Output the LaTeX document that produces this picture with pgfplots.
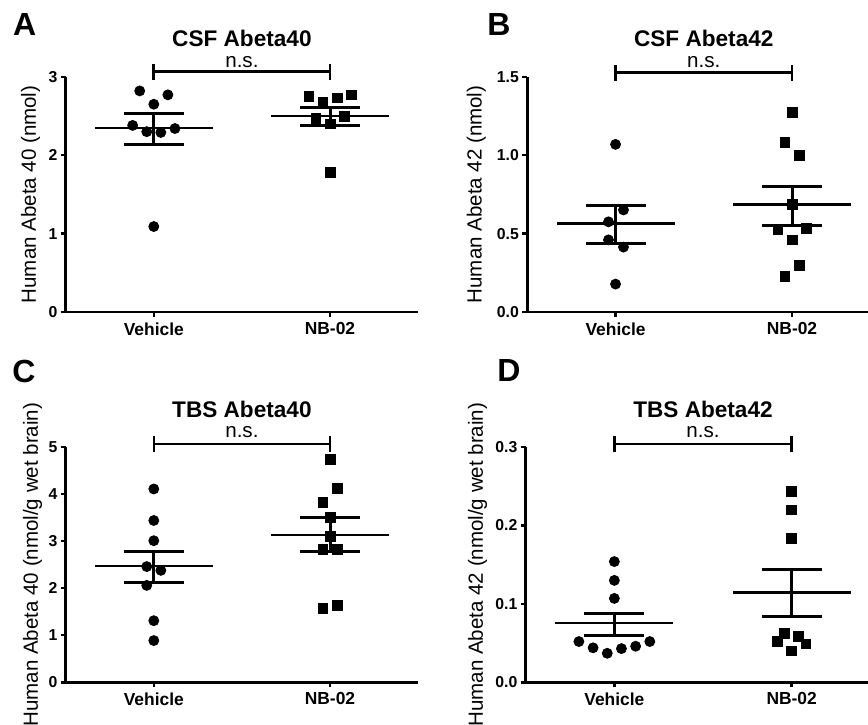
\documentclass[border=0pt]{standalone}
\usepackage{pgfplots}
\pgfplotsset{compat=1.18}
\usepackage{fontspec}
\setmainfont{Liberation Sans}

\pgfplotsset{
  dotplot/.style={
    scale only axis,
    anchor=south west,
    clip=false,
    axis x line=bottom, axis y line=left,
    axis line style={line width=1.3pt,-},
    tick style={line width=1.2pt,black},
    major tick length=2.5pt,
    tick align=outside,
    xtick={1,2}, xticklabels={Vehicle,NB-02},
    xmin=0.5, ymin=0,
    height=117.6pt,
    /pgf/number format/assume math mode=true,
    yticklabel style={font=\bfseries\fontsize{7.9}{9}\selectfont, inner sep=1.5pt},
    xticklabel style={font=\bfseries\fontsize{8.7}{10}\selectfont, inner sep=2.5pt},
    every axis y label/.style={rotate=90, anchor=center, font=\fontsize{10.25}{12}\selectfont},
  },
  vmark/.style={black, only marks, mark=*, mark size=2.5pt},
  nmark/.style={black, only marks, mark=square*, mark size=2.45pt},
  meansem/.style={black, only marks, mark=-, mark size=29.5pt,
    mark options={line width=1.1pt},
    error bars/.cd, y dir=both, y explicit, error mark=|,
    error mark options={line width=1.5pt, mark size=15pt},
    error bar style={line width=1.5pt}},
}
\tikzset{
  titletext/.style={anchor=base, font=\bfseries\fontsize{11.3}{13}\selectfont},
  nstext/.style={anchor=base, font=\fontsize{10.3}{12}\selectfont},
  panellabel/.style={anchor=base west, inner sep=0pt, font=\bfseries\fontsize{16}{18}\selectfont},
  bracket/.style={line width=1.3pt},
}

\begin{document}
\begin{tikzpicture}
\path[use as bounding box] (0,0) rectangle (434pt,362pt);

% A
\begin{axis}[dotplot, at={(32.85pt,206pt)}, width=176.2pt, xmax=2.5,
  ymax=3, ytick={0,1,2,3},
  ylabel={Human Abeta 40 (nmol)},
  ylabel style={at={(axis description cs:-0.0994,0.5)}}]
\addplot[vmark] coordinates {(0.92,2.82) (1.08,2.77) (1.00,2.65) (0.88,2.38) (0.96,2.30) (1.04,2.29) (1.12,2.34) (1.00,1.09)};
\addplot[nmark] coordinates {(1.88,2.745) (1.96,2.67) (2.04,2.73) (2.12,2.77) (1.92,2.47) (2.00,2.40) (2.08,2.49) (2.00,1.78)};
\addplot[meansem] coordinates {(1,2.35) += (0,0.18) -= (0,0.21) (2,2.50) += (0,0.11) -= (0,0.12)};
\draw[bracket] ([yshift=2.5pt]axis cs:1,3) -- ([yshift=2.5pt]axis cs:2,3);
\draw[bracket] ([yshift=-1.5pt]axis cs:1,3) -- ([yshift=6.5pt]axis cs:1,3);
\draw[bracket] ([yshift=-1.5pt]axis cs:2,3) -- ([yshift=6.5pt]axis cs:2,3);
\node[nstext, yshift=4.85pt] at (axis cs:1.5,3) {n.s.};
\node[titletext, yshift=15pt] at (axis cs:1.5,3) {CSF Abeta40};
\end{axis}

% B
\begin{axis}[dotplot, at={(263.65pt,206pt)}, width=170.3pt, xmax=2.43,
  ymax=1.5, ytick={0,0.5,1,1.5},
  yticklabel style={/pgf/number format/.cd, fixed, fixed zerofill, precision=1},
  ylabel={Human Abeta 42 (nmol)},
  ylabel style={at={(axis description cs:-0.15,0.5)}}]
\addplot[vmark] coordinates {(1.00,1.069) (1.045,0.651) (0.96,0.575) (0.96,0.460) (1.045,0.414) (1.00,0.178)};
\addplot[nmark] coordinates {(2.00,1.271) (1.96,1.080) (2.04,1.001) (2.00,0.687) (1.92,0.524) (2.08,0.535) (2.00,0.460) (2.04,0.297) (1.96,0.227)};
\addplot[meansem] coordinates {(1,0.564) += (0,0.117) -= (0,0.129) (2,0.685) += (0,0.115) -= (0,0.133)};
\draw[bracket] ([yshift=2pt]axis cs:1,1.5) -- ([yshift=2pt]axis cs:2,1.5);
\draw[bracket] ([yshift=-2pt]axis cs:1,1.5) -- ([yshift=6pt]axis cs:1,1.5);
\draw[bracket] ([yshift=-2pt]axis cs:2,1.5) -- ([yshift=6pt]axis cs:2,1.5);
\node[nstext, yshift=4.85pt] at (axis cs:1.5,1.5) {n.s.};
\node[titletext, yshift=15pt] at (axis cs:1.5,1.5) {CSF Abeta42};
\end{axis}

% C
\begin{axis}[dotplot, at={(32.85pt,20.85pt)}, width=176.2pt, xmax=2.5,
  ymax=5, ytick={0,1,2,3,4,5},
  ylabel={Human Abeta 40 (nmol/g wet brain)},
  ylabel style={at={(axis description cs:-0.094,0.5)}}]
\addplot[vmark] coordinates {(1.00,4.11) (1.00,3.44) (1.00,3.01) (0.96,2.46) (1.04,2.38) (0.96,2.06) (1.00,1.31) (1.00,0.887)};
\addplot[nmark] coordinates {(2.00,4.745) (2.04,4.12) (1.96,3.82) (2.00,3.50) (2.00,3.11) (1.96,2.83) (2.04,2.83) (1.96,1.57) (2.04,1.64)};
\addplot[meansem] coordinates {(1,2.475) += (0,0.315) -= (0,0.355) (2,3.135) += (0,0.365) -= (0,0.355)};
\draw[bracket] ([yshift=1.65pt]axis cs:1,5) -- ([yshift=1.65pt]axis cs:2,5);
\draw[bracket] ([yshift=-2.35pt]axis cs:1,5) -- ([yshift=5.65pt]axis cs:1,5);
\draw[bracket] ([yshift=-2.35pt]axis cs:2,5) -- ([yshift=5.65pt]axis cs:2,5);
\node[nstext, yshift=4.6pt] at (axis cs:1.5,5) {n.s.};
\node[titletext, yshift=14.6pt] at (axis cs:1.5,5) {TBS Abeta40};
\end{axis}

% D
\begin{axis}[dotplot, at={(262.85pt,20.85pt)}, width=171.1pt, xmax=2.43,
  ymax=0.3, ytick={0,0.1,0.2,0.3},
  yticklabel style={/pgf/number format/.cd, fixed, fixed zerofill, precision=1},
  ylabel={Human Abeta 42 (nmol/g wet brain)},
  ylabel style={at={(axis description cs:-0.141,0.5)}}]
\addplot[vmark] coordinates {(1,0.154) (1,0.130) (1,0.107) (0.80,0.052) (0.88,0.044) (0.96,0.037) (1.04,0.043) (1.12,0.046) (1.20,0.052)};
\addplot[nmark] coordinates {(2,0.244) (2,0.220) (2,0.184) (1.96,0.0626) (2.04,0.059) (1.92,0.052) (2.08,0.049) (2,0.040)};
\addplot[meansem] coordinates {(1,0.0753) += (0,0.0127) -= (0,0.0157) (2,0.1145) += (0,0.0289) -= (0,0.0307)};
\draw[bracket] ([yshift=1.5pt]axis cs:1,0.3) -- ([yshift=1.5pt]axis cs:2,0.3);
\draw[bracket] ([yshift=-2.5pt]axis cs:1,0.3) -- ([yshift=5.5pt]axis cs:1,0.3);
\draw[bracket] ([yshift=-2.5pt]axis cs:2,0.3) -- ([yshift=5.5pt]axis cs:2,0.3);
\node[nstext, yshift=4.6pt] at (axis cs:1.5,0.3) {n.s.};
\node[titletext, yshift=14.6pt] at (axis cs:1.5,0.3) {TBS Abeta42};
\end{axis}

\node[panellabel] at (6.35pt,344pt) {A};
\node[panellabel] at (243.5pt,344pt) {B};
\node[panellabel] at (6pt,170.5pt) {C};
\node[panellabel] at (248.5pt,171pt) {D};
\end{tikzpicture}
\end{document}
